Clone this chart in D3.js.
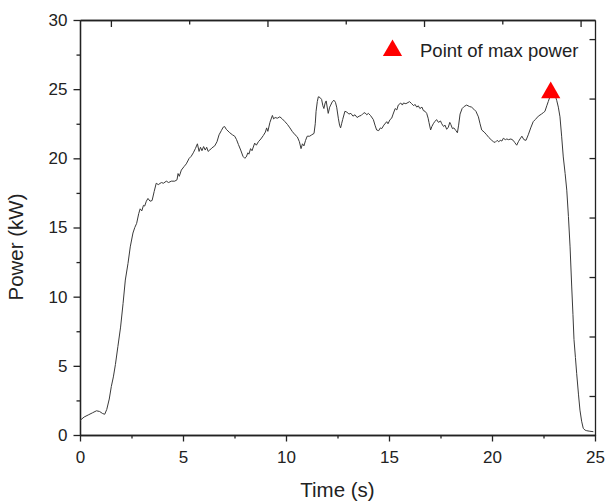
<!DOCTYPE html>
<html>
<head>
<meta charset="utf-8">
<script src="https://cdn.jsdelivr.net/npm/d3@7"></script>
<style>
  html, body { margin: 0; padding: 0; background: #fff; }
  svg { display: block; font-family: "Liberation Sans", Arial, sans-serif; }
  .axis path, .axis line { stroke: #222; }
  .axis text { fill: #222; font-size: 17px; }
</style>
</head>
<body>
<svg id="chart" width="605" height="503"></svg>
<script>
// Measured power trace (time in s, power in kW)
const timeS = [
  0.00, 0.20, 0.40, 0.60, 0.80, 0.95, 1.10, 1.20, 1.30, 1.42, 1.52, 1.62, 1.72, 1.84, 1.97, 2.09, 2.20, 2.33, 2.44, 2.57,
  2.66, 2.75, 2.85, 2.92, 3.00, 3.08, 3.14, 3.22, 3.30, 3.40, 3.50, 3.60, 3.70, 3.80, 3.95, 4.05, 4.19, 4.30, 4.43, 4.60,
  4.71, 4.76, 4.82, 4.92, 5.05, 5.16, 5.30, 5.40, 5.50, 5.60, 5.70, 5.78, 5.85, 5.92, 6.00, 6.08, 6.15, 6.22, 6.30, 6.40,
  6.54, 6.65, 6.75, 6.86, 6.95, 7.02, 7.10, 7.27, 7.40, 7.51, 7.60, 7.69, 7.80, 7.91, 8.00, 8.07, 8.15, 8.20, 8.28, 8.35,
  8.48, 8.56, 8.66, 8.78, 8.90, 9.00, 9.06, 9.12, 9.22, 9.34, 9.40, 9.47, 9.58, 9.70, 9.82, 9.95, 10.07, 10.19, 10.30, 10.44,
  10.55, 10.65, 10.73, 10.80, 10.87, 10.95, 11.03, 11.15, 11.25, 11.36, 11.42, 11.46, 11.52, 11.57, 11.65, 11.73, 11.79, 11.84, 11.90, 11.95,
  12.05, 12.12, 12.17, 12.25, 12.33, 12.40, 12.46, 12.54, 12.60, 12.65, 12.70, 12.75, 12.86, 12.95, 13.05, 13.15, 13.25, 13.35, 13.45, 13.55,
  13.65, 13.75, 13.83, 13.92, 14.00, 14.10, 14.24, 14.32, 14.40, 14.50, 14.58, 14.65, 14.75, 14.89, 14.95, 15.05, 15.13, 15.20, 15.30, 15.38,
  15.45, 15.57, 15.65, 15.70, 15.82, 16.00, 16.10, 16.20, 16.26, 16.35, 16.42, 16.50, 16.60, 16.67, 16.75, 16.83, 16.90, 16.94, 17.02, 17.08,
  17.15, 17.22, 17.31, 17.40, 17.50, 17.56, 17.65, 17.72, 17.80, 17.88, 17.95, 18.00, 18.08, 18.15, 18.25, 18.32, 18.38, 18.45, 18.55, 18.65,
  18.77, 18.90, 19.01, 19.12, 19.22, 19.28, 19.34, 19.42, 19.50, 19.62, 19.74, 19.85, 19.99, 20.07, 20.15, 20.25, 20.33, 20.40, 20.48, 20.55,
  20.65, 20.72, 20.80, 20.92, 21.03, 21.10, 21.20, 21.28, 21.36, 21.45, 21.55, 21.65, 21.76, 21.88, 22.00, 22.10, 22.25, 22.40, 22.49, 22.57,
  22.66, 22.73, 22.80, 22.85, 22.95, 23.05, 23.14, 23.22, 23.30, 23.38, 23.46, 23.55, 23.63, 23.71, 23.79, 23.87, 23.93, 23.98, 24.05, 24.11,
  24.20, 24.27, 24.35, 24.43, 24.52, 24.60, 24.75, 24.92
];
const powerKW = [
  1.05, 1.30, 1.45, 1.60, 1.75, 1.70, 1.55, 1.50, 1.85, 2.60, 3.50, 4.20, 5.10, 6.40, 7.80, 9.50, 11.20, 12.40, 13.60, 14.60,
  15.00, 15.30, 16.00, 16.35, 16.20, 16.60, 16.55, 16.90, 17.10, 16.90, 16.95, 17.60, 18.20, 18.10, 18.25, 18.20, 18.35, 18.25, 18.35, 18.35,
  18.45, 18.90, 18.70, 19.15, 19.40, 19.60, 20.00, 20.15, 20.40, 20.70, 21.05, 20.50, 20.80, 20.55, 20.85, 20.60, 20.80, 20.50, 20.60, 20.75,
  20.90, 21.20, 21.70, 22.00, 22.25, 22.30, 22.10, 21.85, 21.70, 21.60, 21.35, 21.00, 20.60, 20.15, 20.00, 20.10, 20.40, 20.30, 20.70, 20.55,
  21.10, 20.95, 21.20, 21.40, 21.65, 21.90, 22.20, 21.95, 22.60, 23.10, 22.85, 22.95, 22.90, 23.00, 22.85, 22.65, 22.45, 22.20, 21.95, 21.70,
  21.55, 21.20, 20.70, 21.05, 20.90, 21.30, 21.60, 21.60, 21.70, 21.80, 22.50, 23.40, 24.10, 24.45, 24.40, 24.25, 23.80, 23.60, 24.00, 24.15,
  23.25, 23.70, 23.85, 24.10, 24.20, 24.05, 23.70, 22.90, 22.40, 22.20, 22.50, 22.80, 23.40, 23.35, 23.20, 23.25, 23.05, 23.15, 22.95, 23.05,
  23.10, 23.25, 23.30, 23.15, 23.25, 23.10, 22.80, 22.40, 22.05, 22.00, 22.20, 22.15, 22.40, 22.65, 22.50, 22.80, 22.90, 23.20, 23.60, 23.50,
  23.85, 24.00, 23.85, 24.00, 23.95, 24.10, 23.95, 23.80, 23.90, 23.70, 23.80, 23.60, 23.70, 23.45, 23.40, 23.25, 22.90, 22.60, 22.05, 22.30,
  22.50, 22.65, 22.80, 22.60, 22.70, 22.50, 22.30, 22.40, 22.10, 22.25, 22.60, 22.45, 22.15, 22.20, 22.00, 21.85, 22.40, 23.20, 23.60, 23.75,
  23.85, 23.75, 23.70, 23.55, 23.40, 23.20, 23.00, 22.50, 22.05, 21.90, 21.70, 21.50, 21.30, 21.20, 21.15, 21.30, 21.20, 21.30, 21.25, 21.45,
  21.35, 21.40, 21.35, 21.40, 21.30, 21.15, 20.95, 21.20, 21.40, 21.60, 21.35, 21.30, 21.70, 22.20, 22.65, 22.80, 23.05, 23.20, 23.30, 23.40,
  23.80, 24.10, 24.40, 24.75, 24.50, 24.60, 24.20, 23.70, 23.00, 21.60, 20.10, 18.90, 17.70, 15.80, 13.60, 10.70, 8.70, 6.90, 5.60, 4.46,
  2.90, 1.80, 1.00, 0.48, 0.35, 0.31, 0.27, 0.24
];

// Axis ticks
const xMajorTicks = [0, 5, 10, 15, 20, 25];
const xMinorTicks = [2.5, 7.5, 12.5, 17.5, 22.5];
const yMajorTicks = [0, 5, 10, 15, 20, 25, 30];
const yMinorTicks = [2.5, 7.5, 12.5, 17.5, 22.5, 27.5];
const topMajorTicks = [1.5, 9.1, 16.7, 24.3];
const topMinorTicks = [5.3, 12.9, 20.5];
const rightTicks = [2.82, 7.12, 11.42, 15.72, 20.02, 24.32, 28.62];

const xLabel = "Time (s)";
const yLabel = "Power (kW)";
const legendLabel = "Point of max power";

const points = timeS.map((t, i) => ({ t, p: powerKW[i] }));
const maxPoint = points[d3.maxIndex(points, d => d.p)];

const svg = d3.select("#chart");
const plotLeft = 80, plotRight = 595, plotTop = 20, plotBottom = 435;

const x = d3.scaleLinear().domain([0, 25]).range([plotLeft, plotRight]);
const y = d3.scaleLinear().domain([0, 30]).range([plotBottom, plotTop]);

function styleAxis(g) {
  g.attr("class", "axis");
  g.selectAll("path").attr("stroke-width", 1.3);
  g.selectAll("line").attr("stroke-width", 1.3);
}

// bottom axis
svg.append("g").attr("transform", `translate(0,${plotBottom})`)
  .call(d3.axisBottom(x).tickValues(xMinorTicks).tickSize(3.5).tickFormat("").tickSizeOuter(0))
  .call(styleAxis);
svg.append("g").attr("transform", `translate(0,${plotBottom})`)
  .call(d3.axisBottom(x).tickValues(xMajorTicks).tickSize(6.5).tickPadding(9).tickSizeOuter(0))
  .call(styleAxis);

// left axis
svg.append("g").attr("transform", `translate(${plotLeft},0)`)
  .call(d3.axisLeft(y).tickValues(yMinorTicks).tickSize(3.5).tickFormat("").tickSizeOuter(0))
  .call(styleAxis);
svg.append("g").attr("transform", `translate(${plotLeft},0)`)
  .call(d3.axisLeft(y).tickValues(yMajorTicks).tickSize(6.5).tickPadding(6).tickSizeOuter(0))
  .call(styleAxis);

// top frame axis, ticks pointing inward
svg.append("g").attr("transform", `translate(0,${plotTop})`)
  .call(d3.axisBottom(x).tickValues(topMinorTicks).tickSize(4.5).tickFormat("").tickSizeOuter(0))
  .call(styleAxis);
svg.append("g").attr("transform", `translate(0,${plotTop})`)
  .call(d3.axisBottom(x).tickValues(topMajorTicks).tickSize(7).tickFormat("").tickSizeOuter(0))
  .call(styleAxis);

// right frame axis, ticks pointing inward
svg.append("g").attr("transform", `translate(${plotRight},0)`)
  .call(d3.axisLeft(y).tickValues(rightTicks).tickSize(5.5).tickFormat("").tickSizeOuter(0))
  .call(styleAxis);

// power trace
svg.append("path")
  .datum(points)
  .attr("fill", "none")
  .attr("stroke", "#3a3a3a")
  .attr("stroke-width", 1)
  .attr("stroke-linejoin", "round")
  .attr("d", d3.line().x(d => x(d.t)).y(d => y(d.p)));

// max power marker
const tri = d3.symbol().type(d3.symbolTriangle).size(160);
svg.append("path")
  .attr("d", tri())
  .attr("fill", "#ff0000")
  .attr("transform", `translate(${x(maxPoint.t)},${y(maxPoint.p)})`);

// legend
svg.append("path")
  .attr("d", tri())
  .attr("fill", "#ff0000")
  .attr("transform", "translate(392.5,50.5)");
svg.append("text")
  .attr("x", 420).attr("y", 56.5)
  .attr("font-size", 18.5)
  .attr("fill", "#222")
  .text(legendLabel);

// axis titles
svg.append("text")
  .attr("x", (plotLeft + plotRight) / 2).attr("y", 497)
  .attr("text-anchor", "middle")
  .attr("font-size", 20.5)
  .attr("fill", "#222")
  .text(xLabel);
svg.append("text")
  .attr("transform", "translate(23,247) rotate(-90)")
  .attr("text-anchor", "middle")
  .attr("font-size", 20.5)
  .attr("fill", "#222")
  .text(yLabel);
</script>
</body>
</html>
